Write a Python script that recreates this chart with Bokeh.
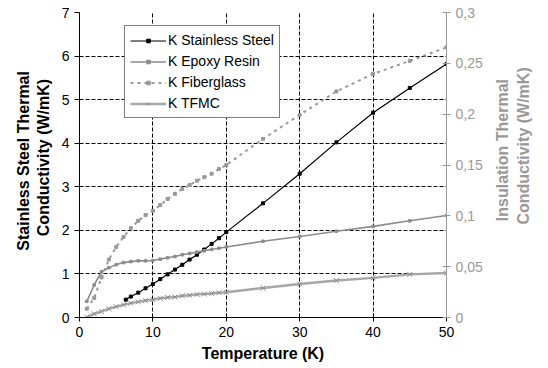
import math
from bokeh.plotting import figure
from bokeh.layouts import row
from bokeh.models import Range1d, LinearAxis, FixedTicker, CustomJSTickFormatter, Legend, LegendItem, Label
from bokeh.embed import file_html
from bokeh.resources import INLINE

# ---- data ----
ss_T = [6.3, 7, 8, 9, 10, 11, 12, 13, 14, 15, 16, 17, 18, 19, 20, 25, 30, 35, 40, 45, 50]
ss_k = [0.41, 0.48, 0.57, 0.67, 0.77, 0.88, 0.99, 1.10, 1.21, 1.33, 1.44, 1.56, 1.69, 1.82, 1.96, 2.62, 3.30, 4.02, 4.70, 5.27, 5.82]

ins_T = [1, 2, 3, 4, 5, 6, 7, 8, 9, 10, 11, 12, 13, 14, 15, 16, 17, 18, 19, 20, 25, 30, 35, 40, 45, 50]
epoxy_k = [0.0159, 0.032, 0.045, 0.049, 0.052, 0.054, 0.055, 0.0557, 0.0557, 0.056, 0.0574, 0.0587, 0.060, 0.0617,
           0.063, 0.0643, 0.0656, 0.0669, 0.0681, 0.0694, 0.075, 0.0797, 0.0849, 0.0896, 0.0951, 0.1003]
fiber_k = [0.0086, 0.0193, 0.0394, 0.057, 0.0694, 0.0793, 0.0879, 0.0951, 0.1007, 0.105, 0.1106, 0.1166, 0.1217,
           0.1264, 0.1303, 0.1346, 0.138, 0.1414, 0.1461, 0.15, 0.1757, 0.1993, 0.2224, 0.2396, 0.2524, 0.2657]
tfmc_k = [0.0003, 0.0036, 0.006, 0.0086, 0.0107, 0.0124, 0.0141, 0.0154, 0.0167, 0.0176, 0.0189, 0.0197, 0.0201,
          0.0214, 0.0219, 0.0227, 0.0231, 0.0236, 0.0244, 0.0249, 0.029, 0.033, 0.0364, 0.039, 0.0424, 0.0437]

x_ticks = [0, 10, 20, 30, 40, 50]
left_ticks = [0, 1, 2, 3, 4, 5, 6, 7]
right_ticks = [0, 0.05, 0.1, 0.15, 0.2, 0.25, 0.3]

left_title = ["Stainless Steel Thermal", "Conductivity (W/mK)"]
right_title = ["Insulation Thermal", "Conductivity (W/mK)"]
x_title = "Temperature (K)"

FONT = "Liberation Sans"
GRAY = "#999999"
H = 368
LW, RW = 56, 58          # widths of the side title panels
MW = 548 - LW - RW       # main plot width

p = figure(width=MW, height=H, output_backend="svg", toolbar_location=None,
           x_range=Range1d(0, 50), y_range=Range1d(0, 7),
           min_border_left=79 - LW, min_border_right=MW - (446 - LW), min_border_top=12, min_border_bottom=51)
p.extra_y_ranges = {"right": Range1d(0, 0.3)}
p.outline_line_color = None
p.background_fill_color = "white"

# grid
p.xgrid.ticker = FixedTicker(ticks=x_ticks)
p.ygrid.ticker = FixedTicker(ticks=left_ticks)
for g in (p.xgrid, p.ygrid):
    g.grid_line_color = "black"
    g.grid_line_dash = "4 2"
    g.grid_line_width = 1

# axes
xa = p.xaxis[0]
xa.ticker = FixedTicker(ticks=x_ticks)
ya = p.yaxis[0]
ya.ticker = FixedTicker(ticks=left_ticks)
for ax in (xa, ya):
    ax.axis_line_color = "black"
    ax.major_tick_line_color = "black"
    ax.minor_tick_line_color = None
    ax.major_label_text_font = FONT
    ax.major_label_text_font_size = "14px"
    ax.major_label_text_color = "black"
    ax.axis_label_text_font = FONT
    ax.axis_label_text_font_style = "bold"
    ax.axis_label_text_font_size = "16px"
    ax.axis_label_text_color = "black"
xa.major_tick_in = 4
xa.major_tick_out = 4
ya.major_tick_in = 0
ya.major_tick_out = 5
xa.axis_label = x_title
xa.axis_label_standoff = 5

ra = LinearAxis(y_range_name="right", ticker=FixedTicker(ticks=right_ticks),
                formatter=CustomJSTickFormatter(code="""
                    var s = tick.toFixed(2);
                    s = s.replace(/0+$/, '').replace(/\\.$/, '');
                    return s.replace('.', ',');
                """))
ra.axis_line_color = GRAY
ra.major_tick_line_color = GRAY
ra.minor_tick_line_color = None
ra.major_tick_in = 4
ra.major_tick_out = 4
ra.major_label_text_font = FONT
ra.major_label_text_font_size = "14px"
ra.major_label_text_color = GRAY
p.add_layout(ra, "right")

# series
ss_l = p.line(ss_T, ss_k, line_color="black", line_width=1.2)
ss_m = p.scatter(ss_T, ss_k, marker="square", size=3, fill_color="black", line_color="black")

ep_l = p.line(ins_T, epoxy_k, y_range_name="right", line_color="#8c8c8c", line_width=1.6)
ep_m = p.scatter(ins_T, epoxy_k, y_range_name="right", marker="square", size=2.5, fill_color="#8c8c8c",
                 line_color="#8c8c8c")

fb_l = p.line(ins_T, fiber_k, y_range_name="right", line_color=GRAY, line_width=2, line_dash="3 4")
fb_m = p.scatter(ins_T, fiber_k, y_range_name="right", marker="square", size=3, fill_color=GRAY,
                 line_color=GRAY)

tf_l = p.line(ins_T, tfmc_k, y_range_name="right", line_color="#a6a6a6", line_width=2.4)
tf_m = p.scatter(ins_T, tfmc_k, y_range_name="right", marker="x", size=7, line_color="#8c8c8c", line_width=1)

legend = Legend(items=[
    LegendItem(label="K Stainless Steel", renderers=[ss_l, ss_m]),
    LegendItem(label="K Epoxy Resin", renderers=[ep_l, ep_m]),
    LegendItem(label="K Fiberglass", renderers=[fb_l, fb_m]),
    LegendItem(label="K TFMC", renderers=[tf_l, tf_m]),
], location=(45, 199))
legend.label_text_font = FONT
legend.label_text_font_size = "14px"
legend.label_text_color = "black"
legend.glyph_width = 36
legend.glyph_height = 9
legend.label_height = 18
legend.label_standoff = 2
legend.spacing = 3
legend.padding = 5
legend.margin = 0
legend.border_line_color = "black"
legend.border_line_width = 1
legend.background_fill_alpha = 1
p.add_layout(legend, "center")


def title_panel(width, lines, xs, ys, color):
    t = figure(width=width, height=H, output_backend="svg", toolbar_location=None,
               x_range=Range1d(0, width), y_range=Range1d(0, H),
               x_axis_location=None, y_axis_location=None, min_border=0)
    t.outline_line_color = None
    t.grid.visible = False
    for txt, xx, yy in zip(lines, xs, ys):
        t.add_layout(Label(x=xx, y=H - yy, text=txt, angle=math.pi / 2, text_align="center",
                           text_baseline="middle", text_font=FONT, text_font_style="bold",
                           text_font_size="16px", text_color=color))
    return t


left_panel = title_panel(LW, left_title, [23, 43], [179, 175], "black")
right_panel = title_panel(RW, right_title, [502 - (548 - RW), 523 - (548 - RW)], [166, 161], GRAY)

layout = row(left_panel, p, right_panel, spacing=0)
open("out.html", "w").write(file_html(layout, INLINE))
